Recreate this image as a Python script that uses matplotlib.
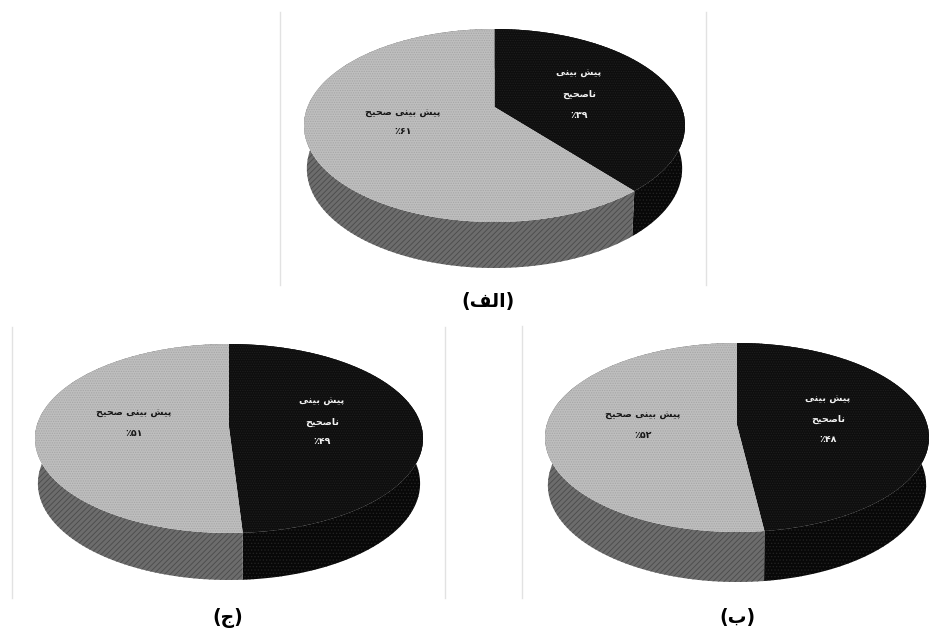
import numpy as np
import matplotlib
matplotlib.use('Agg')
import matplotlib.pyplot as plt
from matplotlib.patches import Polygon

# Share of wrong predictions in each panel (percent)
wrong_pct = [39, 48, 49]
correct_pct = [61, 52, 51]
captions = ['الف', 'ب', 'ج']
wrong_label = ['پیش بینی', 'ناصحیح']
correct_label = ['پیش بینی صحیح']
persian_numbers = ['۳۹', '۴۸', '۴۹', '۶۱', '۵۲', '۵۱']

# Presentation forms: isolated, final, initial, medial
forms = {
    'پ': (0xFB56, 0xFB57, 0xFB58, 0xFB59),
    'ی': (0xFBFC, 0xFBFD, 0xFBFE, 0xFBFF),
    'ش': (0xFEB5, 0xFEB6, 0xFEB7, 0xFEB8),
    'ب': (0xFE8F, 0xFE90, 0xFE91, 0xFE92),
    'ن': (0xFEE5, 0xFEE6, 0xFEE7, 0xFEE8),
    'ص': (0xFEB9, 0xFEBA, 0xFEBB, 0xFEBC),
    'ح': (0xFEA1, 0xFEA2, 0xFEA3, 0xFEA4),
    'ل': (0xFEDD, 0xFEDE, 0xFEDF, 0xFEE0),
    'ف': (0xFED1, 0xFED2, 0xFED3, 0xFED4),
    'ج': (0xFE9D, 0xFE9E, 0xFE9F, 0xFEA0),
    'ا': (0xFE8D, 0xFE8E, 0xFE8D, 0xFE8E),
}


# matplotlib does not join Arabic letters, so pick the glyphs by hand
def shape_fa(text):
    out = []
    for i, ch in enumerate(text):
        if ch not in forms:
            out.append(ch)
            continue
        prev = text[i - 1] if i > 0 else ' '
        nxt = text[i + 1] if i + 1 < len(text) else ' '
        joins_prev = prev in forms and prev != 'ا'
        joins_next = nxt in forms and ch != 'ا'
        idx = {(False, False): 0, (True, False): 1, (False, True): 2, (True, True): 3}[(joins_prev, joins_next)]
        out.append(chr(forms[ch][idx]))
    return ''.join(out[::-1])


# Circle seen in perspective: nearer part of the disc is stretched
def project(theta, p):
    top_lobe = p['cy'] - p['top']
    low_lobe = p['front'] - p['cy']
    k = (1 - top_lobe / low_lobe) / (1 + top_lobe / low_lobe)
    half_w = (p['right'] - p['left']) / 2 * np.sqrt(1 - k ** 2)
    half_h = top_lobe * (1 + k)
    X = np.sin(theta)
    Y = np.cos(theta)
    w = 1 + k * Y
    x = half_w * X / w
    y = -half_h * Y / w
    # wall height shrinks less toward the sides than the disc does
    drop = (p['bottom'] - p['front']) * (1 - 0.4 * k) / (1 + 0.4 * k * Y)
    return x, y, drop


def draw_pie(ax, pct, p):
    split = 2 * np.pi * pct / 100
    wrong_t = np.linspace(0, split, 200)
    right_t = np.linspace(split, 2 * np.pi, 300)
    cx = (p['left'] + p['right']) / 2

    # Side walls first, the top face hides their back part
    for t, fc, ec, hatch in [(wrong_t, '#080808', '#222222', '.....'),
                             (right_t, '#6c6c6c', '#4a4a4a', '//////')]:
        x, y, drop = project(t, p)
        upper = np.column_stack([cx + x, p['cy'] + y])
        lower = np.column_stack([cx + 0.985 * x, p['cy'] + y + drop])
        ax.add_patch(Polygon(np.vstack([upper, lower[::-1]]), facecolor=fc, edgecolor=ec,
                             hatch=hatch, linewidth=0, zorder=2))

    # Top face
    for t, fc, ec, hatch in [(wrong_t, '#0e0e0e', '#1e1e1e', '.......'),
                             (right_t, '#bebebe', '#a6a6a6', '.......')]:
        x, y, _ = project(t, p)
        pts = np.vstack([[cx, p['cy']], np.column_stack([cx + x, p['cy'] + y])])
        ax.add_patch(Polygon(pts, facecolor=fc, edgecolor=ec, hatch=hatch, linewidth=0, zorder=3))


fig = plt.figure(figsize=(9.43, 6.34), dpi=100)
ax = fig.add_axes([0, 0, 1, 1])
ax.set_xlim(0, 943)
ax.set_ylim(634, 0)
ax.axis('off')
plt.rcParams['hatch.linewidth'] = 0.6

panels = [
    dict(left=304, right=685, top=29, cy=107, front=222, bottom=268, frame=[280, 706], frame_y=(12, 285),
         cap=(488, 302), wrong_xy=(579, [74, 94, 115]), right_xy=(403, [113, 132])),
    dict(left=545, right=929, top=343, cy=425, front=532, bottom=582, frame=[522], frame_y=(326, 598),
         cap=(737, 618), wrong_xy=(828, [399, 419, 440]), right_xy=(643, [415, 435])),
    dict(left=35, right=423, top=344, cy=427, front=533, bottom=580, frame=[12, 445], frame_y=(327, 598),
         cap=(228, 618), wrong_xy=(322, [402, 422, 442]), right_xy=(134, [413, 433])),
]

for i, p in enumerate(panels):
    draw_pie(ax, wrong_pct[i], p)

    # Thin chart frame lines
    for fx in p['frame']:
        ax.plot([fx, fx], p['frame_y'], color='#e2e2e2', lw=1, zorder=1)

    x_w, ys_w = p['wrong_xy']
    lines_w = [shape_fa(s) for s in wrong_label] + ['٪' + persian_numbers[i]]
    for line, y in zip(lines_w, ys_w):
        ax.text(x_w, y, line, color='#f2f2f2', fontsize=6.8, fontweight='bold', ha='center', va='center',
                family='DejaVu Sans', zorder=5)

    x_c, ys_c = p['right_xy']
    lines_c = [shape_fa(s) for s in correct_label] + ['٪' + persian_numbers[i + 3]]
    for line, y in zip(lines_c, ys_c):
        ax.text(x_c, y, line, color='#161616', fontsize=6.8, fontweight='bold', ha='center', va='center',
                family='DejaVu Sans', zorder=5)

    ax.text(p['cap'][0], p['cap'][1], '(' + shape_fa(captions[i]) + ')', color='black', fontsize=13.5,
            fontweight='bold', ha='center', va='center', family='DejaVu Sans', zorder=5)

fig.savefig('out.png', dpi=100)
